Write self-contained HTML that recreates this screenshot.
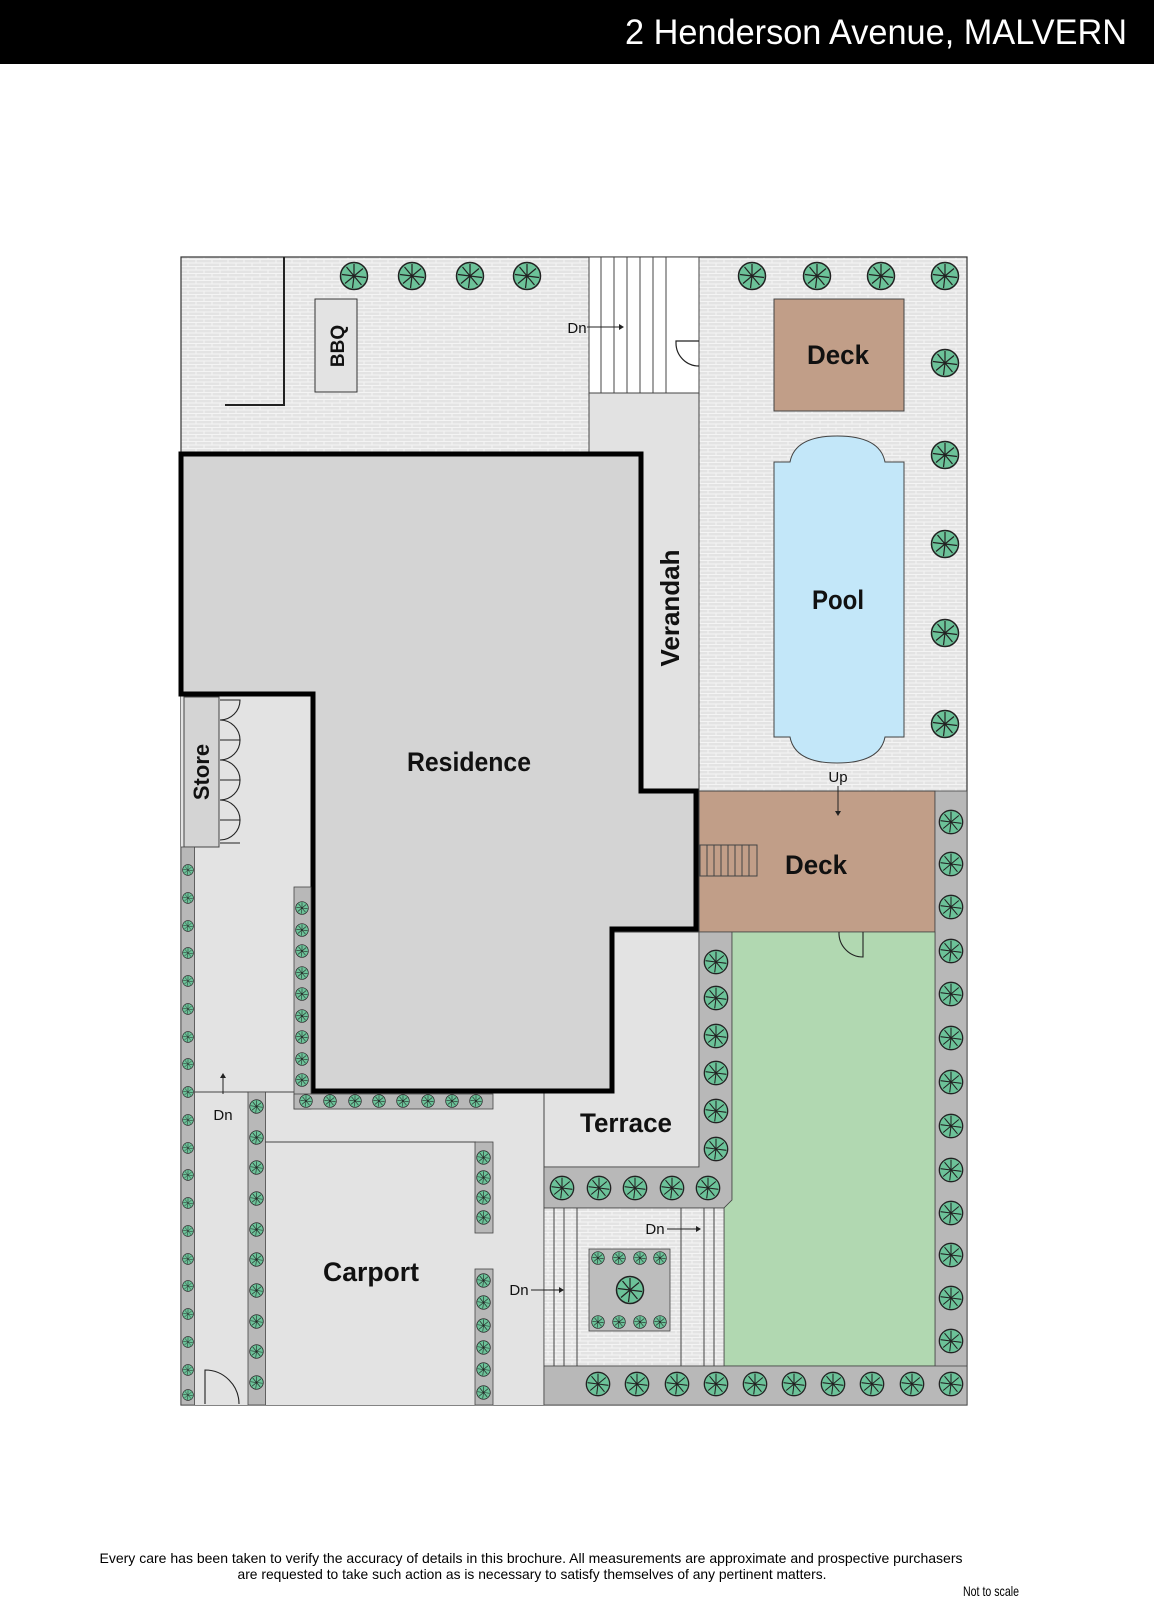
<!DOCTYPE html>
<html><head><meta charset="utf-8"><style>
html,body{margin:0;padding:0;background:#fff;}
svg{display:block;}
text{font-family:"Liberation Sans",sans-serif;}
</style></head><body>
<svg width="1154" height="1600" viewBox="0 0 1154 1600" xmlns="http://www.w3.org/2000/svg">
<defs>
<pattern id="brick" width="16" height="7" patternUnits="userSpaceOnUse">
<rect width="16" height="7" fill="#e3e3e3"/>
<path d="M0 0.5H16M0 4H16M4 0.5V4M12 4V7" stroke="#f4f4f4" stroke-width="1"/>
</pattern>
<symbol id="tr" viewBox="-10 -10 20 20">
<circle r="9" fill="#6cc299" stroke="#222" stroke-width="1"/>
<path d="M0 0L0 -8M0 0L6 -5M0 0L8 1M0 0L5 6M0 0L-1 8M0 0L-6 5M0 0L-8 -1M0 0L-5 -6" stroke="#222" stroke-width="0.8"/>
</symbol>
</defs>
<rect x="0" y="0" width="1154" height="64" fill="#000"/>
<text x="1127" y="44" font-size="35" fill="#fff" text-anchor="end" textLength="502" lengthAdjust="spacingAndGlyphs">2 Henderson Avenue, MALVERN</text>

<rect x="181" y="257" width="786" height="1148" fill="url(#brick)" stroke="#333" stroke-width="1.2"/>
<rect x="181" y="694" width="363" height="711" fill="#e3e3e3"/>
<line x1="544" y1="1092" x2="544" y2="1405" stroke="#444" stroke-width="1"/>
<line x1="181" y1="1092" x2="294" y2="1092" stroke="#444" stroke-width="1"/>
<path d="M284 257V405H225" fill="none" stroke="#222" stroke-width="2"/>
<rect x="315" y="299" width="42" height="93" fill="#e3e3e3" stroke="#333" stroke-width="1"/>
<text transform="translate(344,346) rotate(-90)" font-size="19" font-weight="bold" text-anchor="middle" fill="#111">BBQ</text>
<rect x="589" y="257" width="110" height="136" fill="#fff" stroke="#444" stroke-width="1"/>
<path d="M601 257V393M614 257V393M627 257V393M640 257V393M653 257V393M666 257V393" stroke="#444" stroke-width="1"/>
<text x="577" y="333" font-size="15" text-anchor="middle" fill="#111">Dn</text>
<path d="M587 327H620" stroke="#222" stroke-width="1"/><path d="M624 327l-5 -3v6z" fill="#222"/>
<path d="M699 341H676V343A23 23 0 0 0 699 366" fill="none" stroke="#222" stroke-width="1.2"/>
<rect x="589" y="393" width="110" height="398" fill="#e2e2e2" stroke="#444" stroke-width="1"/>
<text transform="translate(679,608) rotate(-90)" font-size="26" font-weight="bold" text-anchor="middle" fill="#111">Verandah</text>
<rect x="774" y="299" width="130" height="112" fill="#c19e88" stroke="#444" stroke-width="1"/>
<text x="838" y="364" font-size="27" font-weight="bold" text-anchor="middle" fill="#111" textLength="62" lengthAdjust="spacingAndGlyphs">Deck</text>
<path d="M774 462H790Q795 436 837 436Q880 436 885 462H904V737H885Q880 763 837 763Q795 763 790 737H774Z" fill="#c3e7f9" stroke="#444" stroke-width="1"/>
<text x="838" y="609" font-size="27" font-weight="bold" text-anchor="middle" fill="#111" textLength="52" lengthAdjust="spacingAndGlyphs">Pool</text>
<text x="838" y="782" font-size="15" text-anchor="middle" fill="#111">Up</text>
<!-- terrace (before residence) -->
<rect x="544" y="932" width="155" height="235" fill="#e3e3e3" stroke="#444" stroke-width="1"/>
<path d="M181 454H641V791H696V929H612V1091H313V694H181Z" fill="#d4d4d4" stroke="#000" stroke-width="5"/>
<text x="469" y="771" font-size="27" font-weight="bold" text-anchor="middle" fill="#111" textLength="124" lengthAdjust="spacingAndGlyphs">Residence</text>
<text x="626" y="1132" font-size="27" font-weight="bold" text-anchor="middle" fill="#111" textLength="92" lengthAdjust="spacingAndGlyphs">Terrace</text>
<rect x="184" y="697" width="35" height="150" fill="#d4d4d4" stroke="#444" stroke-width="1"/>
<path d="M220 700h20a20 20 0 0 1 -20 20M220 740h20a20 20 0 0 0 -20 -20M220 740h20a20 20 0 0 1 -20 20M220 780h20a20 20 0 0 0 -20 -20M220 780h20a20 20 0 0 1 -20 20M220 820h20a20 20 0 0 0 -20 -20M220 820h20a20 20 0 0 1 -20 20M220 843h20" fill="none" stroke="#222" stroke-width="1.1"/>
<text transform="translate(209,772) rotate(-90)" font-size="22" font-weight="bold" text-anchor="middle" fill="#111">Store</text>
<rect x="181" y="847" width="13.5" height="558" fill="#b8b8b8" stroke="#444" stroke-width="0.8"/>
<rect x="294" y="887" width="17" height="222" fill="#b8b8b8" stroke="#444" stroke-width="0.8"/>
<rect x="294" y="1094" width="199" height="15" fill="#b8b8b8" stroke="#444" stroke-width="0.8"/>
<rect x="248" y="1092" width="17.5" height="313" fill="#b8b8b8" stroke="#444" stroke-width="0.8"/>
<line x1="265" y1="1142" x2="476" y2="1142" stroke="#444" stroke-width="1"/>
<rect x="475" y="1142" width="18" height="91" fill="#b8b8b8" stroke="#444" stroke-width="0.8"/>
<rect x="475" y="1269" width="18" height="136" fill="#b8b8b8" stroke="#444" stroke-width="0.8"/>
<text x="223" y="1120" font-size="15" text-anchor="middle" fill="#111">Dn</text>
<path d="M223 1094V1078" stroke="#222" stroke-width="1"/><path d="M223 1073l-3 5h6z" fill="#222"/>
<text x="371" y="1281" font-size="27" font-weight="bold" text-anchor="middle" fill="#111" textLength="96" lengthAdjust="spacingAndGlyphs">Carport</text>
<path d="M205 1404V1370A34 34 0 0 1 239 1404" fill="none" stroke="#222" stroke-width="1.1"/>
<rect x="699" y="791" width="236" height="141" fill="#c19e88" stroke="#444" stroke-width="1"/>
<path d="M838 786V812" stroke="#222" stroke-width="1"/><path d="M838 816l-3 -5h6z" fill="#222"/>
<rect x="935" y="791" width="32" height="614" fill="#b8b8b8" stroke="#444" stroke-width="0.8"/>
<rect x="700" y="845" width="57" height="31" fill="none" stroke="#444" stroke-width="1"/>
<path d="M707 845V876M714 845V876M721 845V876M728 845V876M735 845V876M742 845V876M749 845V876" stroke="#444" stroke-width="1"/>
<text x="816" y="874" font-size="27" font-weight="bold" text-anchor="middle" fill="#111" textLength="62" lengthAdjust="spacingAndGlyphs">Deck</text>
<path d="M699 932H732V1200L724 1208H544V1167H699Z" fill="#b8b8b8" stroke="#444" stroke-width="0.8"/>
<path d="M732 932H935V1366H724V1208L732 1200Z" fill="#b1d8b1" stroke="#444" stroke-width="0.8"/>
<path d="M839 932A24 24 0 0 0 863 957V932" fill="none" stroke="#222" stroke-width="1.1"/>
<rect x="544" y="1208" width="180" height="158" fill="url(#brick)" stroke="#444" stroke-width="0.8"/>
<path d="M554 1208V1366M564 1208V1366M577 1208V1366M681 1208V1366M704 1208V1366M714 1208V1366" stroke="#444" stroke-width="1"/>
<rect x="589" y="1249" width="81" height="82" fill="#bdbdbd" stroke="#444" stroke-width="0.8"/>
<text x="655" y="1234" font-size="15" text-anchor="middle" fill="#111">Dn</text>
<path d="M667 1229H697" stroke="#222"/><path d="M701 1229l-5 -3v6z" fill="#222"/>
<text x="519" y="1295" font-size="15" text-anchor="middle" fill="#111">Dn</text>
<path d="M531 1290H560" stroke="#222"/><path d="M564 1290l-5 -3v6z" fill="#222"/>
<rect x="544" y="1366" width="423" height="39" fill="#b8b8b8" stroke="#444" stroke-width="0.8"/>

<g>
<use href="#tr" x="339" y="261" width="30" height="30"/><use href="#tr" x="397" y="261" width="30" height="30"/><use href="#tr" x="455" y="261" width="30" height="30"/><use href="#tr" x="512" y="261" width="30" height="30"/>
<use href="#tr" x="737" y="261" width="30" height="30"/><use href="#tr" x="802" y="261" width="30" height="30"/><use href="#tr" x="866" y="261" width="30" height="30"/><use href="#tr" x="930" y="261" width="30" height="30"/>
<use href="#tr" x="930" y="348" width="30" height="30"/><use href="#tr" x="930" y="440" width="30" height="30"/><use href="#tr" x="930" y="529" width="30" height="30"/><use href="#tr" x="930" y="618" width="30" height="30"/><use href="#tr" x="930" y="709" width="30" height="30"/>
<use href="#tr" x="615" y="1275" width="30" height="30"/>
</g>
<g>
<use href="#tr" x="938" y="809" width="26" height="26"/><use href="#tr" x="938" y="851" width="26" height="26"/><use href="#tr" x="938" y="894" width="26" height="26"/><use href="#tr" x="938" y="938" width="26" height="26"/><use href="#tr" x="938" y="981" width="26" height="26"/><use href="#tr" x="938" y="1025" width="26" height="26"/><use href="#tr" x="938" y="1069" width="26" height="26"/><use href="#tr" x="938" y="1113" width="26" height="26"/><use href="#tr" x="938" y="1157" width="26" height="26"/><use href="#tr" x="938" y="1200" width="26" height="26"/><use href="#tr" x="938" y="1242" width="26" height="26"/><use href="#tr" x="938" y="1285" width="26" height="26"/><use href="#tr" x="938" y="1328" width="26" height="26"/><use href="#tr" x="938" y="1371" width="26" height="26"/>
<use href="#tr" x="585" y="1371" width="26" height="26"/><use href="#tr" x="624" y="1371" width="26" height="26"/><use href="#tr" x="664" y="1371" width="26" height="26"/><use href="#tr" x="703" y="1371" width="26" height="26"/><use href="#tr" x="742" y="1371" width="26" height="26"/><use href="#tr" x="781" y="1371" width="26" height="26"/><use href="#tr" x="820" y="1371" width="26" height="26"/><use href="#tr" x="859" y="1371" width="26" height="26"/><use href="#tr" x="899" y="1371" width="26" height="26"/>
<use href="#tr" x="703" y="949" width="26" height="26"/><use href="#tr" x="703" y="985" width="26" height="26"/><use href="#tr" x="703" y="1023" width="26" height="26"/><use href="#tr" x="703" y="1060" width="26" height="26"/><use href="#tr" x="703" y="1098" width="26" height="26"/><use href="#tr" x="703" y="1136" width="26" height="26"/>
<use href="#tr" x="549" y="1175" width="26" height="26"/><use href="#tr" x="586" y="1175" width="26" height="26"/><use href="#tr" x="622" y="1175" width="26" height="26"/><use href="#tr" x="659" y="1175" width="26" height="26"/><use href="#tr" x="695" y="1175" width="26" height="26"/>
</g>
<g>
<use href="#tr" x="591" y="1251" width="14" height="14"/><use href="#tr" x="612" y="1251" width="14" height="14"/><use href="#tr" x="633" y="1251" width="14" height="14"/><use href="#tr" x="653" y="1251" width="14" height="14"/>
<use href="#tr" x="591" y="1315" width="14" height="14"/><use href="#tr" x="612" y="1315" width="14" height="14"/><use href="#tr" x="633" y="1315" width="14" height="14"/><use href="#tr" x="653" y="1315" width="14" height="14"/>
<use href="#tr" x="476" y="1150" width="15" height="15"/><use href="#tr" x="476" y="1170" width="15" height="15"/><use href="#tr" x="476" y="1190" width="15" height="15"/><use href="#tr" x="476" y="1210" width="15" height="15"/>
<use href="#tr" x="476" y="1273" width="15" height="15"/><use href="#tr" x="476" y="1295" width="15" height="15"/><use href="#tr" x="476" y="1318" width="15" height="15"/><use href="#tr" x="476" y="1340" width="15" height="15"/><use href="#tr" x="476" y="1362" width="15" height="15"/><use href="#tr" x="476" y="1385" width="15" height="15"/>
<use href="#tr" x="249" y="1099" width="15" height="15"/><use href="#tr" x="249" y="1130" width="15" height="15"/><use href="#tr" x="249" y="1160" width="15" height="15"/><use href="#tr" x="249" y="1191" width="15" height="15"/><use href="#tr" x="249" y="1222" width="15" height="15"/><use href="#tr" x="249" y="1252" width="15" height="15"/><use href="#tr" x="249" y="1283" width="15" height="15"/><use href="#tr" x="249" y="1314" width="15" height="15"/><use href="#tr" x="249" y="1344" width="15" height="15"/><use href="#tr" x="249" y="1375" width="15" height="15"/>
<use href="#tr" x="295" y="901" width="14" height="14"/><use href="#tr" x="295" y="923" width="14" height="14"/><use href="#tr" x="295" y="944" width="14" height="14"/><use href="#tr" x="295" y="966" width="14" height="14"/><use href="#tr" x="295" y="987" width="14" height="14"/><use href="#tr" x="295" y="1009" width="14" height="14"/><use href="#tr" x="295" y="1030" width="14" height="14"/><use href="#tr" x="295" y="1052" width="14" height="14"/><use href="#tr" x="295" y="1073" width="14" height="14"/>
<use href="#tr" x="299" y="1094" width="14" height="14"/><use href="#tr" x="323" y="1094" width="14" height="14"/><use href="#tr" x="348" y="1094" width="14" height="14"/><use href="#tr" x="372" y="1094" width="14" height="14"/><use href="#tr" x="396" y="1094" width="14" height="14"/><use href="#tr" x="421" y="1094" width="14" height="14"/><use href="#tr" x="445" y="1094" width="14" height="14"/><use href="#tr" x="469" y="1094" width="14" height="14"/>
<use href="#tr" x="182" y="864" width="12" height="12"/><use href="#tr" x="182" y="892" width="12" height="12"/><use href="#tr" x="182" y="920" width="12" height="12"/><use href="#tr" x="182" y="947" width="12" height="12"/><use href="#tr" x="182" y="975" width="12" height="12"/><use href="#tr" x="182" y="1003" width="12" height="12"/><use href="#tr" x="182" y="1031" width="12" height="12"/><use href="#tr" x="182" y="1058" width="12" height="12"/><use href="#tr" x="182" y="1086" width="12" height="12"/><use href="#tr" x="182" y="1114" width="12" height="12"/><use href="#tr" x="182" y="1142" width="12" height="12"/><use href="#tr" x="182" y="1169" width="12" height="12"/><use href="#tr" x="182" y="1197" width="12" height="12"/><use href="#tr" x="182" y="1225" width="12" height="12"/><use href="#tr" x="182" y="1253" width="12" height="12"/><use href="#tr" x="182" y="1280" width="12" height="12"/><use href="#tr" x="182" y="1308" width="12" height="12"/><use href="#tr" x="182" y="1336" width="12" height="12"/><use href="#tr" x="182" y="1364" width="12" height="12"/><use href="#tr" x="182" y="1389" width="12" height="12"/>
</g>

<text x="531" y="1563" font-size="14" text-anchor="middle" fill="#000" textLength="863" lengthAdjust="spacingAndGlyphs">Every care has been taken to verify the accuracy of details in this brochure.  All measurements are approximate and prospective purchasers</text>
<text x="532" y="1579" font-size="14" text-anchor="middle" fill="#000" textLength="589" lengthAdjust="spacingAndGlyphs">are requested to take such action as is necessary to satisfy themselves of any pertinent matters.</text>
<text x="1019" y="1596" font-size="14" text-anchor="end" fill="#000" textLength="56" lengthAdjust="spacingAndGlyphs">Not to scale</text>
</svg>
</body></html>
